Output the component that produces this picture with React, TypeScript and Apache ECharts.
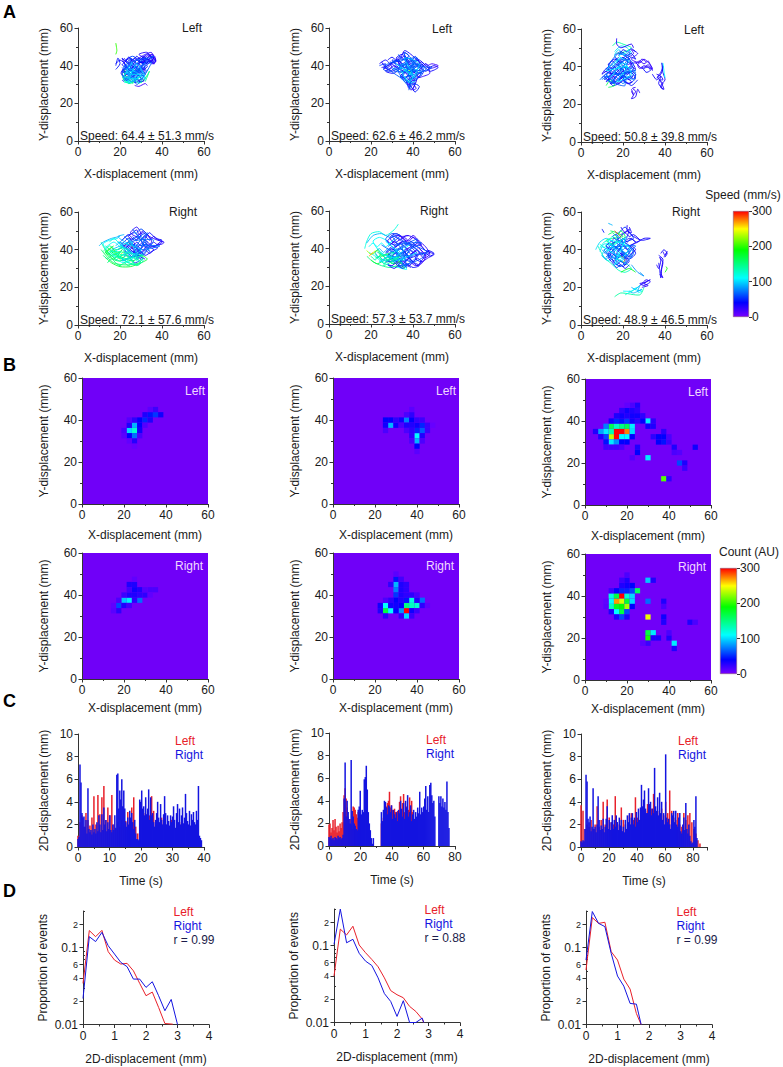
import React, { useEffect, useRef } from "react";
import * as echarts from "echarts";

const FONT = "'Liberation Sans', Arial, sans-serif";
const RED = "#e8202a";
const BLUE = "#1414e0";
const PURPLE = "#7000f8";

const rampStops: [number, number[]][] = [
  [0, [120, 0, 255]],
  [40, [0, 0, 255]],
  [110, [0, 255, 255]],
  [190, [0, 255, 0]],
  [250, [255, 255, 0]],
  [300, [255, 0, 0]],
];
function ramp(v: number) {
  for (let i = 1; i < rampStops.length; i++) {
    if (v <= rampStops[i][0]) {
      const [a, ca] = rampStops[i - 1];
      const [b, cb] = rampStops[i];
      const t = (v - a) / (b - a);
      const c = ca.map((q, k) => Math.round(q + (cb[k] - q) * t));
      return `rgb(${c[0]},${c[1]},${c[2]})`;
    }
  }
  return "rgb(255,0,0)";
}

const speedLabels = [
  "Speed: 64.4 ± 51.3 mm/s", "Speed: 62.6 ± 46.2 mm/s", "Speed: 50.8 ± 39.8 mm/s",
  "Speed: 72.1 ± 57.6 mm/s", "Speed: 57.3 ± 53.7 mm/s", "Speed: 48.9 ± 46.5 mm/s",
];

// Trajectories: [speed, x, y, x, y, ...] (mm)
const trajA1 = [
  [35, 18,41,20,43,23,40,21,37,25,35,28,38,26,42,30,44,33,41,36,44,33,46,29,42,34,42,37,43,34,45,31,41,27,44,24,41,21,44,24,38,28,36,30,33,27,31,24,34,21,32],
  [60, 21,39,24,36,27,40,30,37,32,40,29,43,26,45,23,43,25,39,29,35,26,33,23,36,22,33,25,31],
  [25, 29,44,32,46,35,47,36,44,33,42,31,44,34,43,36,41,37,43,35,46,32,43,28,41,25,44,22,42],
  [40, 22,41,25,38,28,41,31,39,29,36,32,38,30,42,27,39,24,42,26,36,23,39,21,35,24,33,27,35,30,39],
  [90, 21,34,24,32,27,36,23,38,26,41,30,36,32,33,29,31,26,35,23,34,22,37,25,36,28,33],
  [115, 22,31,26,32,29,34,25,37,22,35,24,30.5,27,33,31,35,28,38,24,35],
  [150, 21,36,22,32,25,30.5,28,33,30,31,33,35,34,37,32,31.5],
  [180, 22,38,23,34,26,31],
  [200, 18,46,18.5,48,18,52],
  [20, 27,29.5,29,29,32,30.5,33,29.5],
  [45, 18,38,20,41,19,44,18,40],
  [30, 30,45,33,43,36,45,35,42,32,44,29,46,33,47,36,42],
  [40, 22,44,23.5,42,25,43.5,26.5,41,28,43,29.5,41.5,31,43.5,32.5,41,34,43,35.5,41.5,37,42.5,35,44.5,33,43,31.5,45,30,43,28,45,26,43,24,44.5,22.5,42,21,40.5,23,39,25,40.5,27,38.5,29,40,31,38,33,39.5,31.5,41.5,29,42.5],
  [30, 21,38,23,36.5,25,38,27,36,29,37.5,31,35.5,32,37.5,30,39,28,37.5,26,39,24,37,22,38.5,20.5,36,22,34.5,24,36,26,34,28,35.5,30,33.5,31.5,32,29.5,31.5,27.5,33,25.5,31.5,23.5,33,21.5,31.5],
  [75, 21,35,22.5,33,24,35,26,33,27.5,34.5,29,32.5,31,34,29.5,36,27.5,37,25.5,35.5,23.5,37.5,21.5,39,24,40,26,38,28,39.5,30,37,32,36,33,38],
  [130, 21.5,33,23,31,24.5,32.5,26,30.5,27.5,32,29,30.5,30.5,32.5,28.5,34,26.5,32,24.5,34,22.5,32],
  [25, 33,44,35,46,36.5,45,37,42,35,41,33,43.5,31,42,32,44.5,34,45.5,36,43.5,34.5,42.5,36.5,41],
  [65, 24,43,29,37,22,40,33,44,26,34,31,41,23,32,35,42,28,30,25,44,32,35,21,37,36,45,30,39,27,31],
  [100, 26,42,23,36,30,35,24,31,28,41,32,33,25,38,22,34,29,33],
];
const trajA2 = [
  [35, 24,41,27,43,30,39,27,37,31,36,34,40,32,44,35,46,37,42,34,38,38,36,41,39,44,42,47,39,50,40,52,39,48,37,45,40,42,43,39,46,36,48,34,44,31,42,28,40,25,39],
  [45, 26,38,29,41,33,43,36,40,39,43,42,40,45,37,43,34,40,37,37,34,40,31,43,29,41,26,39,29,37,32,35,35,38,39,41,36],
  [25, 25,42,28,38,31,40,35,37,33,42,36,45,39,41,42,44,44,39,46,41,48,36,44,34,41,33,38,30,39,27,41,30,42,35,38,38],
  [70, 33,46,35,43,38,44,40,40,36,37,34,34,37,31,40,34,43,36,46,38,43,41,40,38,37,41,33,39,30,38],
  [100, 35,41,38,39,41,41,39,36,36,33,39,31,42,33,44,36,41,38,38,34],
  [130, 37,36,40,38,42,35,39,33,37,38,34,36],
  [20, 47,38,50,39,52,40,49,41,47,40],
  [230, 38,38,39,36],
  [55, 24,40,27,41,26,38,29,37,32,40,30,43,34,42,36,44,39,42,41,45,43,42],
  [35, 26,41,28,39,30,41,32,39,34,41,36,39,38,41,40,39,42,41,44,39,46,41,48,39,46,37,44,38.5,42,37,40,38,38,36.5,36,38,34,36.5,32,38,30,37,28,38,26,39],
  [40, 28,43,30,44.5,32,43,34,45,36,43,38,45.5,35.5,47,37,44,39,43.5,41,42.5,43,43,45,41,43,40,41,41,39,40,37,42.5,35,41,33,42.5,31,41.5,29,42],
  [30, 34,35,36,33,38,35,40,33,42,35,44,36.5,42.5,33.5,40.5,32,38.5,33.5,37,31,39,29,41,31,40,27,41.5,28,39.5,30.5,38,28,36.5,33,34,34.5,36,36.5,38,34.5,40,36,42,37.5],
  [80, 30,39,33,37.5,35,39.5,37,37.5,39,39.5,41,37.5,43,39.5,40,41.5,38,39,36,41,33,40],
  [115, 35,36,37,38,39,36,40,34,38,32,36,34],
  [65, 30,42,44,36,36,47,39,28,33,38,49,39,35,34,42,44,27,40,41,30,37,44,45,38,31,37,40,42,38,27],
  [95, 32,41,40,35,36,44,43,41,38,31,34,39,42,33],
];
const trajA3 = [
  [35, 10,34,13,37,16,34,14,31,18,33,21,36,19,40,16,38,13,41,16,44,19,42,22,45,24,41,21,38,25,36,23,33,20,35,17,31,14,35,11,33],
  [45, 12,39,15,41,18,37,21,40,24,37,26,34,23,31,19,34,16,37,13,34,15,30,18,31,20,33,24,30,27,33],
  [25, 16,46,19,48,22,45,25,47,24,49,27,47,24,44,28,42,30,44,33,41,34,38,32,41,29,39,26,42,22,41],
  [70, 9,33,12,36,14,32,17,35,20,38,17,41,14,38,12,35,15,33,18,36,21,34],
  [100, 16,48,19,51,22,50,24,47,21,46,18,49,16,46,18,43],
  [140, 15,51,17,53,20,52,24,50,21,48,17,47],
  [165, 12,30,14,33,16,30,13,29],
  [30, 17,55,17,52,19,50,24,52,25,50],
  [30, 24,28,25,25,24,23,26,24,27,28,28,26],
  [35, 36,34,38,36,39,39,38.5,42,39,37,40,33,38,30,39,28,37,31,38,35,36,33,34,36],
  [110, 39,42,39.5,38,40,34],
  [40, 30,39,32,40,33,38,31,37,29,40],
  [45, 11,37,14,39,17,42,20,44,23,42,25,39,22,36,19,39,16,36,13,38,15,42,18,45],
  [90, 20,36,23,38,26,36,25,33,22,35,19,37],
  [35, 11,35,13,33,15,35,17,33,19,35,21,33,23,35,25,33.5,26,36,24,37.5,22,36,20,37.5,18,36,16,37.5,14,36,12,37.5,10,36,12,39,14,37.5,16,40,18,38,20,40,22,38.5,24,40,26,38.5,25,41,23,42.5,21,41,19,43,17,41,15,43,13,41],
  [30, 14,31,16,32.5,18,31,20,32.5,22,31,24,32,22,34,20,35.5,18,33.5,16,35,14,33.5,12,32,14,34.5],
  [40, 16,45,18,43.5,20,45,22,43.5,24,45,26,44,24,47,22,46,20,47.5,18,46,20,49,22,48,24,49.5,26,48],
  [25, 26,42,28,43,30,41.5,32,43,33,41,34,39,32,39.5,30,40.5,28,39,27,41,29,44,31,42.5],
  [30, 36,36,38,35,39,33,37.5,33,39,31,38,29,39.5,28,38,32,36.5,34.5,38,37,39,40],
  [75, 10,33,12,35,14,33.5,16,31.5,18,33,20,31,22,33.5,24,35,26,37,24,39,21,39.5,19,41],
  [110, 17,40,19,38,21,41,23,43,20,44,18,46,21,47,23,49],
  [25, 24,27,25,25,26,27,24.5,28.5,26,29],
  [65, 12,36,22,44,15,31,25,41,18,47,13,39,24,34,17,44,21,30,11,34,26,38,16,36,23,48,20,33],
  [105, 14,34,20,42,24,36,17,32,22,40,12,38,19,45,15,40],
];
const trajA4 = [
  [30, 21,43,24,46,27,43,25,40,29,38,32,41,30,45,33,48,35,44,32,41,36,42,40,43,41,44,38,45,34,47,31,50,28,47,25,49,28,52,30,48,27,45,24,48,21,45],
  [35, 19,40,23,42,26,39,29,42,32,45,35,42,38,41,35,39,32,37,29,40,26,43,23,41,26,37,30,35,27,33,24,37],
  [60, 20,44,23,47,27,49,30,46,33,44,30,41,27,38,24,41,22,38,25,36,28,39,31,37,33,40],
  [110, 13,41,17,44,20,41,16,38,19,36,23,38,26,35,22,33,18,35,15,38,12,43,15,45,19,46],
  [160, 11,40,14,36,17,33,21,32,25,32,29,33,31,36,27,37,23,35,19,34,15,36,13,39,16,37,20,39],
  [175, 13,36,16,33,20,31,25,31,30,33,33,35,30,37,26,34,21,36,17,38,14,41],
  [140, 11,44,13,40,17,36,21,37,25,39,22,41,18,40,15,42,12,39],
  [230, 20,37,22,39,24,36],
  [290, 22,42,24,44,26,41],
  [25, 25,42,27,39,28,36,29,39,27,42],
  [90, 10,42,12,44,16,46,20,47],
  [130, 22,33,26,36,29,37,31,34,28,32,24,33],
  [40, 36,41,38,43,40,45,37,46,34,49,32,46],
  [30, 20,44,22,42,24,44,26,42,28,44,30,42,32,44,34,42,36,44,38,42.5,40,44,38,45.5,36,47,34,45,32,47,30,45,28,47,26,45.5,24,47,26,49,28,50.5,29,48,31,49,33,47.5,35,45],
  [35, 24,40,26,38,28,40,30,38,32,40,34,38,36,40,34,41.5,32,43,30,40.5,28,42,26,40.5,24,42,22,40,24,38,26,36,28,37.5,30,36,32,35],
  [150, 12,37,14,35,16,37,18,34.5,20,36,22,34,24,36,26,33.5,28,35,30,33,28,31.5,26,33,24,31.5,22,33,20,31.5,18,33,16,35,14,33],
  [170, 13,40,15,38,17,40,19,38,21,40,19,37,17,35,15,37,13,38.5,15,40.5,17,42],
  [90, 18,42,20,44,22,41,24,43,21,45,19,47,22,48],
  [120, 15,44,17,46,20,43,23,39,26,37,28,34,31,35],
  [60, 26,47,28,45,30,47.5,32,49,30,51,28,49],
  [200, 14,39,16,41,18,38,20,35,23,37],
  [70, 22,47,31,38,25,44,36,45,28,35,33,49,27,40,39,42,23,43,30,47,34,39,26,51],
  [130, 13,42,24,33,18,38,29,35,20,42,27,32,15,39,31,37,22,35],
  [95, 16,40,26,44,21,34,30,40,19,44,28,37,24,46],
];
const trajA5 = [
  [30, 27,38,30,41,33,37,31,34,35,32,38,35,36,39,40,41,43,38,41,35,44,33,47,35,50,37,46,39,43,43,40,46,37,47,34,45,31,43,29,46,32,48,35,46,38,43,42,41,45,38],
  [40, 28,34,31,37,34,40,37,37,40,33,43,31,40,30,37,32,34,30,31,33,28,36,30,39,33,42,36,44,39,41,42,37,38,35,35,38,32,36],
  [25, 30,44,33,47,37,44,40,47,43,44,46,41,48,37,45,35,42,39,39,37,36,41,33,39,30,36,33,33,37,34,40,38],
  [70, 26,36,29,33,33,35,36,31,39,33,42,36,39,39,36,36,33,38,29,40,27,37],
  [110, 19,38,22,36,25,33,29,31,33,30,37,29,34,33,30,35,26,37,23,40,21,44,24,46,28,44],
  [150, 18,36,21,33,25,31,29,30,33,31,36,29.5,33,34,29,36,25,34,22,37],
  [175, 20,34,23,32,27,34,31,32,35,34,32,30],
  [120, 17,40,18,44,20,48,24,49,27,47,31,50,33,53],
  [90, 18,43,21,47,25,48,29,46,32,47],
  [230, 18,39,20,37,22,39],
  [270, 19,36,21,38],
  [60, 28,41,31,44,34,47,30,48,27,45,31,42,35,44],
  [20, 38,34,41,31,44,32,46,36,43,40],
  [30, 30,43,32,41,34,43,36,41,38,43,40,41,42,43,44,41,46,39,48,38,46,36.5,44,38,42,36,40,38,38,36,36,38,34,36,32,38,30,36,28,38,30,40,32,38.5,34,40,36,38.5,38,40,40,38,42,40],
  [35, 28,33,30,35,32,33,34,35,36,33,38,35,40,33,42,35,44,33,42,31,40,32.5,38,31,36,32.5,34,31,32,32.5,30,31,28,31.5,31,29.5,33,31,35,29.5,37,31,39,30],
  [25, 32,46,34,44.5,36,46,38,44,40,46,42,44.5,44,42,41,42,39,44,37,42,35,44,33,42,31,44,29,42,28,44.5,30,46,32,47,35,46.5,38,47],
  [90, 24,36,26,34,28,36,30,34,32,36,34,33.5,36,36,34,38,32,40,30,38,28,40,26,38,24,40,22,38,24,35],
  [140, 20,36,22,34,24,36,26,32,28,34,30,32,32,34,30,36,27,35,25,37,23,35],
  [110, 19,41,21,43,23,41,25,43,27,41,29,43,31,45],
  [200, 21,37,23,39,25,36,28,37,30,34],
  [40, 44,37,46,38,48,36,50,37.5,47,39,45,35,43,32],
  [65, 25,42,39,33,30,47,45,36,33,31,42,45,28,36,47,38,35,43,37,30,31,41,44,43,27,33,40,36],
  [100, 23,38,36,34,27,44,33,37,24,33,38,42,30,33,42,38],
  [140, 22,35,31,38,26,31,34,36,28,34,23,40],
];
const trajA6 = [
  [35, 13,41,16,44,19,41,17,38,21,36,23,39,20,43,23,46,26,44,23,42,27,44,30,46,33,46,29,45,25,47,22,50,19,47,16,44,13,37,16,34,19,37,22,34,20,31,17,34],
  [55, 11,38,14,41,17,36,20,39,23,36,25,40,22,43,18,45,15,47,18,49,21,52,23,49,25,46,21,44,17,41,14,38,16,33,19,31],
  [100, 7,40,9,44,12,46,15,44,12,41,10,37,13,34,16,37,19,34,22,37,19,40,15,42,11,43,9,39],
  [130, 8,42,11,36,14,33,18,29,21,28,24,30,21,33,17,35],
  [160, 14,50,17,49,20,47,15,46,12,45,15,43,18,45],
  [290, 16,50,19,47],
  [280, 18,37,21,35,20,33],
  [45, 10,51,11,49],
  [90, 13,54,15,53],
  [30, 19,52,21,49,23,51,22,47],
  [80, 24,32,27,28,30,26,28,28],
  [180, 19,28,23,30,26,28],
  [35, 37,33,37.5,29,38,25,38.5,31,39,35,37,37],
  [30, 39,39,40,37,41,39,39.5,36],
  [190, 40,28,41,30,40.5,31],
  [25, 28,21,31,23,33,24,30,22,32,21,29,20],
  [110, 20,18,24,18,27,20,25,19,29,18,27,17],
  [140, 16,15,19,17,28,16,30,20],
  [45, 18,41,21,38,24,41,26,38,23,35,20,37,17,40],
  [35, 12,38,14,36,16,38,18,36,20,38,22,36,24,38,26,40,24,42,22,40,20,42,18,40,16,42,14,40,12,42,14,44,16,46,18,44,20,46,22,44,24,46,26,44,28,45,25,48,23,47,21,49,19,48],
  [45, 15,34,17,32,19,34,21,32,23,34,21,36,19,38,17,36,15,38,13,36,15,33,17,30.5,19,32,21,30,23,32],
  [85, 10,40,12,38,14,41,16,39,18,42,20,40,22,42,24,40,22,37,20,35,18,37,16,35,14,37,12,35,10,37],
  [120, 9,43,11,41,13,44,15,42,17,45,15,47,13,45,11,44,9,41],
  [160, 13,48,15,49,17,47,19,50,21,47,18,44],
  [30, 22,53,22,50,24,49,23,52],
  [30, 36,32,37,30,38,34,37.5,36,39,33,38,28,39,25,37.5,27],
  [35, 38,38,39.5,40,41,38,40,36],
  [30, 29,22,31,24,33,23,32,22,30,21,28,22,31,22.5],
  [90, 24,20,26,19,28,21,27,18,29,19,25,17,23,18],
  [120, 21,16,25,18.5],
  [70, 14,43,24,36,17,48,21,33,11,40,26,42,16,35,22,47,12,36,20,44,25,38,18,31,15,45],
  [110, 10,42,19,36,13,45,23,41,16,32,21,46,12,39],
];

// Heat maps: [binX, binY, count]; bins are centred on multiples of 2.5 mm.
const heatB1 = [
  [10,14,125],[9,14,100],[10,15,90],[10,13,70],[9,13,40],[9,15,30],[10,16,25],[11,15,40],[11,14,35],[11,16,40],
  [12,17,30],[12,16,50],[13,17,45],[14,17,55],[15,17,35],[14,18,20],[13,16,30],[10,12,28],[8,14,15],[8,13,10],
  [11,13,15],[9,16,12],[12,15,12],[13,18,10],[10,11,6],[9,12,8],
];
const heatB2 = [
  [11,15,90],[10,16,40],[14,16,75],[16,13,110],[16,12,90],[17,14,65],[17,15,50],[16,11,40],[11,16,40],[12,15,35],
  [13,16,35],[15,17,25],[15,16,40],[16,15,35],[15,15,30],[14,15,30],[16,14,50],[18,15,20],[18,14,20],[15,14,25],
  [14,14,15],[15,13,25],[10,15,35],[13,15,15],[17,13,30],[17,16,20],[12,16,25],[15,18,10],[10,14,15],[14,17,15],
  [16,16,22],[15,12,15],[17,12,15],[19,15,6],[16,10,10],
];
const heatB3 = [
  [6,14,300],[7,14,300],[6,13,300],[8,14,275],[5,13,235],[5,15,165],[6,15,130],[7,15,150],[8,15,165],[9,15,105],
  [4,15,75],[3,14,85],[4,14,105],[5,14,135],[9,14,100],[4,13,60],[7,13,110],[8,13,110],[9,13,40],[3,13,30],
  [5,12,105],[6,12,80],[4,12,45],[7,12,40],[8,12,40],[4,11,18],[5,11,18],[6,11,18],[7,11,15],[2,14,30],
  [5,16,35],[6,16,50],[7,16,45],[8,16,55],[9,16,35],[6,17,30],[7,17,35],[8,17,30],[9,17,35],[10,17,35],[11,17,25],
  [7,18,25],[8,18,35],[9,18,30],[10,18,25],[10,19,30],[9,19,15],[8,19,8],[12,16,105],[11,16,40],[13,16,25],
  [12,15,35],[13,15,30],[14,13,40],[15,13,40],[15,12,45],[14,12,40],[16,12,20],[15,14,25],[13,13,25],[16,13,15],
  [17,11,30],[18,10,12],[17,10,15],[21,11,35],[10,10,40],[10,11,30],[9,9,12],[12,9,105],[15,5,210],[16,5,25],
  [18,8,60],[19,8,30],[19,7,20],[10,16,25],
];
const heatB4 = [
  [8,15,95],[9,15,105],[7,14,60],[11,15,70],[9,18,30],[10,18,30],[10,17,35],[11,17,30],[12,16,25],[13,17,15],
  [14,17,15],[8,14,30],[9,16,30],[10,16,30],[8,16,20],[11,16,25],[7,13,25],[6,13,10],[9,17,18],[10,15,25],
  [9,14,18],[12,17,12],[7,15,15],[6,14,8],[10,19,8],[13,16,8],
];
const heatB5 = [
  [14,13,300],[14,14,150],[14,12,100],[10,13,170],[11,13,110],[10,14,110],[16,14,125],[15,15,120],[15,14,130],
  [12,18,90],[12,17,75],[12,16,55],[12,15,40],[13,13,80],[17,15,70],[12,19,45],[11,18,25],[13,18,30],[14,18,25],
  [13,17,30],[14,17,25],[13,16,30],[14,16,25],[15,16,25],[11,15,25],[13,15,30],[14,15,45],[11,14,35],[12,14,35],
  [13,14,40],[9,14,35],[9,13,30],[12,13,40],[15,13,35],[16,13,20],[10,12,25],[15,12,20],[13,12,25],[17,14,25],
  [16,15,30],[16,16,15],[10,15,15],[12,20,10],[13,19,18],[18,14,8],
];
const heatB6 = [
  [7,16,300],[6,15,270],[7,15,240],[5,16,120],[5,15,110],[6,16,170],[8,15,175],[8,16,125],[9,16,100],[9,15,100],
  [6,14,180],[7,14,190],[8,14,230],[5,14,130],[9,14,40],[6,13,110],[7,13,170],[8,13,60],[5,13,30],[6,12,30],
  [7,12,60],[8,12,30],[7,17,50],[8,17,50],[6,17,40],[9,17,60],[5,17,20],[10,17,160],[7,18,30],[8,18,35],[9,18,40],
  [7,19,20],[8,19,30],[8,20,15],[12,19,95],[13,19,30],[12,15,70],[15,15,30],[15,14,15],[12,12,245],[15,12,35],
  [15,11,30],[12,9,170],[12,8,195],[13,9,105],[13,8,30],[14,8,30],[16,8,30],[16,9,15],[17,7,105],[17,6,30],
  [20,11,30],[21,11,15],[12,7,20],[11,7,10],[4,14,10],[4,15,8],
];

const cBlueStep = [0.316, 0.64, 0.72];
const cRedStep = [0.632, 0.64, 1.44];
const cBlue1 = [0.7,0.9,7.3,5.7,3.0,2.6,2.7,1.8,2.4,1.2,5.2,1.6,1.3,1.5,1.1,2.0,1.3,1.6,1.2,2.2,
  1.4,2.8,2.0,1.3,2.9,1.5,3.5,2.0,2.4,1.4,2.2,1.6,2.8,1.5,1.3,2.0,1.5,2.8,1.7,6.4,
  6.5,3.4,5.0,4.2,6.0,3.6,5.0,3.4,2.2,1.8,2.6,2.0,3.2,2.6,3.0,2.2,1.6,2.4,1.2,0.7,
  0.7,0.6,4.2,4.0,5.0,3.4,3.6,2.8,4.4,2.9,3.4,5.1,2.4,4.4,2.8,3.0,2.2,1.8,2.4,3.0,
  4.0,2.6,2.2,3.8,2.4,2.0,2.9,4.5,3.0,2.0,2.8,2.3,1.9,2.8,2.2,2.7,3.6,2.4,1.7,3.0,
  3.8,2.2,3.4,2.0,2.8,3.5,2.1,2.6,4.7,3.0,2.3,2.0,3.2,1.9,2.9,2.4,3.1,2.2,2.0,3.2,
  2.4,5.4,1.0,0.8,0.6];
const cRed1 = [1.0,2.2,2.8,1.8,3.0,2.4,1.9,2.6,4.5,2.0,4.6,2.9,4.4,5.4,2.4,3.5,2.8,4.6,2.0,1.6,
  2.2,1.8,2.4,2.0,2.3,3.1,2.2,3.5,4.4,1.8,1.2,2.4,2.0,3.0,2.6,3.2,2.8,4.5,3.2,2.0,
  2.2,1.8,2.6,2.1,1.7,2.0,1.4,2.4,2.0,1.6,1.9,2.2,1.3,1.8,2.1,1.5,1.9,1.2,1.5,0.8];
const cBlue2 = [0.8,0.7,0.9,0.6,0.7,0.5,0.8,0.7,0.6,0.9,0.7,0.8,0.6,0.7,1.0,
  4.2,7.4,2.6,4.0,3.0,2.4,2.0,7.6,3.1,2.6,2.0,1.8,1.5,1.4,
  3.2,3.5,4.9,2.8,3.2,3.0,5.9,6.1,7.1,5.0,3.0,2.0,1.4,0.7,0.2,0.7,
  0,0,0,0,0,0,0,
  3.0,2.2,3.2,4.0,3.9,3.4,2.8,3.6,3.5,3.0,3.6,
  2.4,3.2,2.8,2.5,3.0,2.2,3.2,2.9,4.0,3.3,2.6,3.8,2.4,4.0,3.4,
  4.5,2.6,3.0,3.6,2.2,2.8,3.2,2.4,3.0,2.6,3.4,2.9,4.8,2.8,3.4,3.0,
  3.5,4.2,5.3,3.2,4.4,3.0,5.4,5.6,4.5,3.8,4.0,2.6,0,0,0,
  4.4,3.8,4.4,3.5,4.2,3.4,3.9,3.2,5.7,3.0,1.6];
const cRed2 = [1.9,2.0,1.2,1.6,2.3,1.4,2.4,1.7,1.2,1.8,1.3,2.0,1.6,2.1,3.0,
  4.5,5.1,4.2,3.4,2.6,2.0,2.4,1.9,1.5,3.5,3.4,3.2,2.8,2.5,
  3.0,2.8,3.0,2.4,2.6,2.0,2.6,1.8,1.4,1.0,0.5,
  0,0,0,0,0,0,0,0,0,0,0,0,
  2.0,2.2,2.5,3.2,2.8,3.5,3.8,4.0,4.8,3.4,3.6,3.2,2.8,3.3,3.0,2.5,3.1,2.6,3.9,4.4,3.0,3.8,4.6,3.0,2.5,3.5,2.8,3.2,4.3,2.6,4.0,3.0,2.0];
const cBlue3 = [0.5,0.4,0.6,0.5,1.6,6.4,5.8,2.5,2.2,2.7,1.4,1.8,5.2,1.6,1.8,1.3,2.0,4.5,2.4,1.5,
  1.9,1.6,2.5,1.3,1.8,2.5,3.6,1.6,2.4,1.5,2.2,2.8,1.6,2.4,1.8,2.8,2.2,1.5,2.6,1.9,
  2.4,1.4,1.8,1.3,2.4,1.6,2.8,2.2,3.0,2.0,2.6,3.0,2.0,2.6,1.8,3.1,2.2,3.4,2.4,3.5,
  5.5,3.6,4.2,5.0,3.4,3.0,3.0,5.2,3.8,4.0,2.8,3.4,3.0,7.0,3.6,3.2,4.4,2.8,4.8,3.0,
  4.0,2.4,3.0,2.0,8.2,2.6,2.2,2.5,2.0,1.6,3.0,2.8,3.2,2.2,3.2,2.0,1.8,2.6,3.0,1.4,
  1.2,2.0,2.6,1.5,3.9,1.6,1.2,2.0,1.0,0.5,0.3,0.4,2.4,1.8,4.5,0.8];
const cRed3 = [3.7,3.2,1.6,2.0,1.8,2.4,1.6,2.0,3.6,1.8,2.4,4.0,2.0,4.2,2.6,2.2,2.0,4.5,2.2,2.0,
  3.5,2.4,2.0,1.6,2.8,3.0,2.4,4.4,2.6,2.2,3.2,2.6,3.2,3.8,3.0,3.4,4.7,2.6,3.2,2.4,
  3.4,2.8,4.0,3.0,5.0,3.2,2.6,2.4,3.0,2.0,1.8,3.0,2.4,2.8,3.0,2.2,1.6,1.2,0.6,0.3];

const dXRed1 = [0,0.2,0.4,0.6,0.8,1,1.2,1.4,1.6,1.8,2,2.2,2.4,2.6,2.85];
const dRed1 = [0.0343,0.167,0.139,0.168,0.0887,0.069,0.0612,0.0625,0.05,0.0343,0.0237,0.0264,0.0167,0.0103,0.0101];
const dXBlue1 = [0,0.2,0.4,0.6,0.8,1,1.2,1.4,1.6,1.8,2,2.2,2.4,2.6,2.8,3];
const dBlue1 = [0.0218,0.139,0.12,0.158,0.106,0.0826,0.0644,0.0565,0.039,0.039,0.0304,0.036,0.0237,0.0151,0.0212,0.01];
const dXRed2 = [0,0.2,0.4,0.6,0.8,1,1.2,1.4,1.6,1.8,2,2.2,2.4,2.6,2.8,2.85];
const dRed2 = [0.0401,0.164,0.138,0.179,0.102,0.081,0.0662,0.0531,0.0381,0.026,0.023,0.021,0.0162,0.0139,0.0111,0.01];
const dXBlue2 = [0,0.2,0.4,0.6,0.8,1,1.2,1.4,1.6,1.8,2,2.2,2.4,2.6,2.8,2.85];
const dBlue2 = [0.104,0.299,0.109,0.121,0.0794,0.063,0.0552,0.0381,0.0238,0.0188,0.012,0.0192,0.01,0.01,0.0114,0.01];
const dXRed3 = [0,0.2,0.4,0.6,0.8,1,1.2,1.4,1.6,1.75];
const dRed3 = [0.0512,0.246,0.207,0.214,0.0887,0.069,0.039,0.0289,0.0139,0.01];
const dXBlue3 = [0,0.2,0.4,0.6,0.8,1,1.2,1.4,1.6,1.75];
const dBlue3 = [0.069,0.295,0.207,0.188,0.0843,0.0427,0.0316,0.0188,0.0184,0.01];
const dLabelled = [0.01,0.02,0.04,0.06,0.1,0.2];
const dUnlabelled = [0.03,0.05,0.07,0.08,0.09,0.3];

const axisColor = "#333";
const lineAxis = { show: true, onZero: false, lineStyle: { color: axisColor, width: 1 } };
const labelBase = { fontFamily: FONT, fontSize: 12, color: "#1a1a1a", margin: 5 };
const nameBase = { fontFamily: FONT, fontSize: 12, color: "#1a1a1a" };

function valueAxis(gridIndex: number, o: any) {
  return {
    type: "value",
    gridIndex,
    min: o.min,
    max: o.max,
    interval: o.interval,
    name: o.name,
    nameLocation: "middle",
    nameGap: o.nameGap,
    nameTextStyle: nameBase,
    position: o.position,
    axisLine: lineAxis,
    axisTick: { show: true, length: 3.5, lineStyle: { color: axisColor } },
    minorTick: o.minor ? { show: true, splitNumber: 2, length: 2, lineStyle: { color: axisColor } } : { show: false },
    splitLine: { show: false },
    axisLabel: { ...labelBase, showMinLabel: true, showMaxLabel: true, hideOverlap: false, ...(o.formatter ? { formatter: o.formatter } : {}) },
  };
}

const renderTraj = (strokes: number[][]) => (params: any, api: any) => {
  const s = strokes[params.dataIndex];
  const points: number[][] = [];
  for (let i = 1; i + 1 < s.length; i += 2) points.push(api.coord([s[i], s[i + 1]]));
  return { type: "polyline", shape: { points, smooth: 0.25 }, style: { stroke: ramp(s[0]), fill: "none", lineWidth: 0.9 } };
};
const heatBin = 2.5;
const renderHeat = (params: any, api: any) => {
  const i = api.value(0), j = api.value(1), c = api.value(2);
  const a = api.coord([(i - 0.5) * heatBin, (j - 0.5) * heatBin]);
  const b = api.coord([(i + 0.5) * heatBin, (j + 0.5) * heatBin]);
  return { type: "rect", shape: { x: a[0], y: b[1], width: b[0] - a[0], height: a[1] - b[1] }, style: { fill: ramp(c) } };
};

function buildOption() {
  const grid: any[] = [], xAxis: any[] = [], yAxis: any[] = [], series: any[] = [], graphic: any[] = [];
  let g = 0;
  const txt = (text: string, x: number, y: number, fill = "#1a1a1a", extra: any = {}) =>
    graphic.push({ type: "text", z: 100, x, y, style: { text, fill, font: `12px ${FONT}`, textAlign: "left", textVerticalAlign: "middle", ...extra } });

  // Row A
  const aRects = [[78,28],[329,28],[581,29],[78,212],[329,211],[581,212]];
  const aTraj = [trajA1,trajA2,trajA3,trajA4,trajA5,trajA6];
  const aTags = [[192,28],[442,29],[694,30],[183,212],[434,211],[686,212]];
  aRects.forEach(([l,t],k) => {
    grid.push({ left: l, top: t, width: 126, height: 113, show: false });
    xAxis.push(valueAxis(g, { min:0,max:60,interval:20,minor:true,name:"X-displacement (mm)",nameGap:27 }));
    yAxis.push(valueAxis(g, { min:0,max:60,interval:20,minor:true,name:"Y-displacement (mm)",nameGap:28 }));
    series.push({ type:"custom", xAxisIndex:g, yAxisIndex:g, coordinateSystem:"cartesian2d", clip:true,
      renderItem: renderTraj(aTraj[k]), encode:{x:0,y:1}, data: aTraj[k].map(s=>[s[1],s[2]]) });
    txt(speedLabels[k], l+2, t+107.5);
    txt(k<3?"Left":"Right", aTags[k][0], aTags[k][1], "#1a1a1a", { textAlign:"center" });
    g++;
  });

  // Row B
  const bRects = [[82,378],[333,378],[585,379],[82,553],[333,553],[585,554]];
  const bHeat = [heatB1,heatB2,heatB3,heatB4,heatB5,heatB6];
  bRects.forEach(([l,t],k) => {
    grid.push({ left:l, top:t, width:126, height:126, show:true, backgroundColor:PURPLE, borderWidth:0 });
    xAxis.push(valueAxis(g, { min:0,max:60,interval:20,minor:true,name:"X-displacement (mm)",nameGap:k<3?25:23 }));
    yAxis.push(valueAxis(g, { min:0,max:60,interval:20,minor:true,name:"Y-displacement (mm)",nameGap:32 }));
    series.push({ type:"custom", xAxisIndex:g, yAxisIndex:g, coordinateSystem:"cartesian2d", clip:true,
      renderItem: renderHeat, encode:{x:0,y:1}, data: bHeat[k] });
    txt(k<3?"Left":"Right", l+(k<3?113:107), t+13, "#f0d8ff", { textAlign:"center" });
    g++;
  });

  // Row C
  const cRects = [[78,734],[329,733],[581,734]];
  const cMax = [40,80,90];
  const cInt = [10,20,20];
  const cB = [cBlue1,cBlue2,cBlue3];
  const cR = [cRed1,cRed2,cRed3];
  cRects.forEach(([l,t],k) => {
    grid.push({ left:l, top:t, width:126, height:113, show:false });
    xAxis.push(valueAxis(g, { min:0,max:cMax[k],interval:cInt[k],minor:true,name:"Time (s)",nameGap:28,
      formatter:(v:number)=> (k===2 && v>=90) ? "" : String(v) }));
    yAxis.push(valueAxis(g, { min:0,max:10,interval:2,name:"2D-displacement (mm)",nameGap:28 }));
    series.push({ type:"bar", xAxisIndex:g, yAxisIndex:g, barWidth:1.5, barGap:"-100%", itemStyle:{color:RED},
      data: cR[k].map((v,i)=>[i*cRedStep[k],v]) });
    series.push({ type:"bar", xAxisIndex:g, yAxisIndex:g, barWidth:1.5, barGap:"-100%", itemStyle:{color:BLUE},
      data: cB[k].map((v,i)=>[i*cBlueStep[k],v]) });
    txt("Left", l+97, t+7, RED);
    txt("Right", l+97, t+21, BLUE);
    g++;
  });

  // Row D
  const dRects = [[83,911],[334,909],[586,911]];
  const dXR = [dXRed1,dXRed2,dXRed3], dVR = [dRed1,dRed2,dRed3];
  const dXB = [dXBlue1,dXBlue2,dXBlue3], dVB = [dBlue1,dBlue2,dBlue3];
  const dR = ["r = 0.99","r = 0.88","r = 0.99"];
  const dMax = Math.log10(0.3), dMin = Math.log10(0.01);
  dRects.forEach(([l,t],k) => {
    grid.push({ left:l, top:t, width:126, height:113.5, show:false });
    xAxis.push(valueAxis(g, { min:0,max:4,interval:1,minor:true,name:"2D-displacement (mm)",nameGap:28 }));
    yAxis.push({
      type:"value", gridIndex:g, min:dMin, max:dMax, name:"Proportion of events", nameLocation:"middle", nameGap:34,
      nameTextStyle:nameBase, axisLine:lineAxis, splitLine:{show:false},
      axisTick:{show:true,length:3.5,lineStyle:{color:axisColor},customValues:dLabelled.map(Math.log10)},
      axisLabel:{ ...labelBase, customValues:dLabelled.map(Math.log10), showMinLabel:true, showMaxLabel:true,
        formatter:(v:number)=>{ const p=Math.round(Math.pow(10,v)*1000)/1000;
          if(p===0.01||p===0.1) return `{big|${p}}`;
          return `{small|${Math.round(p*100)/(p<0.1?1:10)}}`; },
        rich:{ big:{fontFamily:FONT,fontSize:12,color:"#1a1a1a"}, small:{fontFamily:FONT,fontSize:9,color:"#1a1a1a"} } },
    });
    yAxis.push({
      type:"value", gridIndex:g, min:dMin, max:dMax, axisLine:{show:false}, splitLine:{show:false}, axisLabel:{show:false},
      axisTick:{show:true,length:2,lineStyle:{color:axisColor},customValues:dUnlabelled.map(Math.log10)},
    });
    series.push({ type:"line", xAxisIndex:g, yAxisIndex:yAxis.length-2, showSymbol:false, lineStyle:{color:RED,width:1}, itemStyle:{color:RED},
      data: dVR[k].map((v,i)=>[dXR[k][i],Math.log10(v)]) });
    series.push({ type:"line", xAxisIndex:g, yAxisIndex:yAxis.length-2, showSymbol:false, lineStyle:{color:BLUE,width:1}, itemStyle:{color:BLUE},
      data: dVB[k].map((v,i)=>[dXB[k][i],Math.log10(v)]) });
    txt("Left", l+90.5, t+0.5, RED);
    txt("Right", l+90.5, t+14.5, BLUE);
    txt(dR[k], l+90.5, t+28.5, "#1c1c4a");
    g++;
  });

  // Colour bars
  const bars = [[733,211,"Speed (mm/s)",743,195,16,106],[720,568,"Count (AU)",749,552,17,106]] as any[];
  const grad = () => new echarts.graphic.LinearGradient(0,1,0,0,rampStops.map(([v,c])=>({offset:v/300,color:`rgb(${c[0]},${c[1]},${c[2]})`})));
  bars.forEach(([l,t,title,tx,ty,w,h]) => {
    grid.push({ left:l, top:t, width:w, height:h, show:false });
    xAxis.push({ type:"category", gridIndex:g, data:["c"], show:false });
    yAxis.push({ type:"value", gridIndex:g, position:"right", min:0, max:300, interval:100,
      axisLine:{show:false}, splitLine:{show:false},
      axisTick:{show:true,length:3,lineStyle:{color:axisColor}}, axisLabel:{...labelBase,margin:3} });
    series.push({ type:"bar", xAxisIndex:g, yAxisIndex:yAxis.length-1, barWidth:"100%", data:[300],
      itemStyle:{color:grad(),borderColor:"#8c5a78",borderWidth:0.6} });
    txt(title, tx, ty, "#1a1a1a", { textAlign:"center" });
    g++;
  });

  // Panel letters
  ([["A",12],["B",365],["C",701],["D",891]] as [string,number][]).forEach(([t,y]) =>
    graphic.push({ type:"text", z:100, x:3, y, style:{ text:t, fill:"#000", font:`bold 18px ${FONT}`, textVerticalAlign:"middle" } }));

  return { animation:false, backgroundColor:"#fff", grid, xAxis, yAxis, series, graphic };
}

export default function App() {
  const ref = useRef<HTMLDivElement>(null);
  useEffect(() => {
    const chart = echarts.init(ref.current!, undefined, { renderer: "svg" });
    chart.setOption(buildOption() as any);
    return () => chart.dispose();
  }, []);
  return <div ref={ref} style={{ position: "absolute", left: 0, top: 0, width: 783, height: 1067 }} />;
}
